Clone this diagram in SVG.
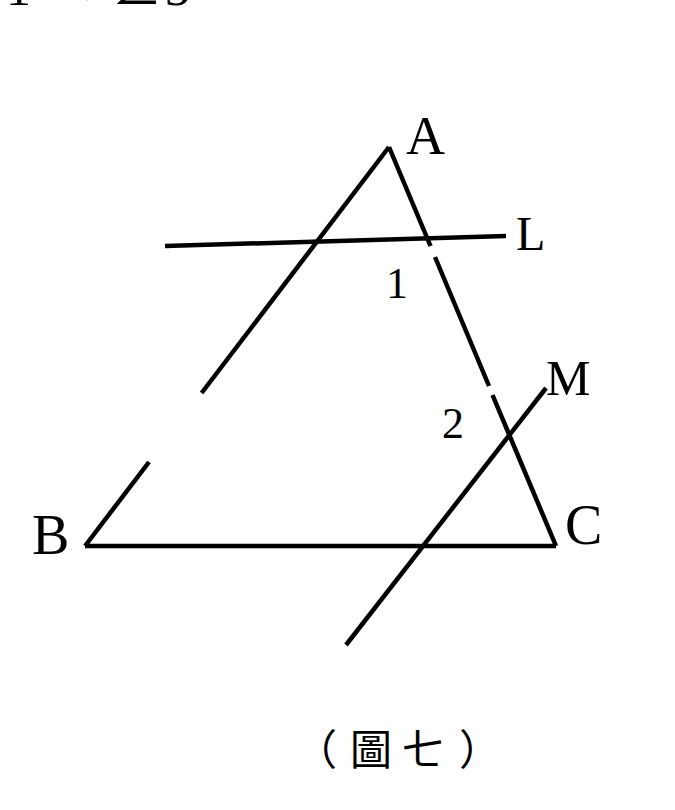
<svg xmlns="http://www.w3.org/2000/svg" width="675" height="810" viewBox="0 0 675 810">
<style>
.ln{stroke:#000;stroke-width:4.5;fill:none;stroke-linecap:butt}
.lb{font-family:"Liberation Serif","Times New Roman",serif;fill:#000}
.cj{font-family:"Noto Sans CJK TC","Noto Sans CJK SC",sans-serif;fill:#000;font-size:42px}
</style>
<rect width="675" height="810" fill="#fff"/>
<text class="lb" y="5" font-size="50"><tspan x="6">1</tspan><tspan x="62">&lt;</tspan><tspan x="112" font-family="Noto Sans CJK TC, sans-serif">∠</tspan><tspan x="165">3</tspan></text>
<g id="connectors">
<path class="ln" d="M389,147 L201.6,393"/>
<path class="ln" d="M149,462 L85,546"/>
<path class="ln" d="M85,546 L556,546"/>
<path class="ln" d="M389,147 L430.5,246"/>
<path class="ln" d="M435,257 L489,386"/>
<path class="ln" d="M492.5,395 L556,546"/>
<path class="ln" d="M165,246 L506,236"/>
<path class="ln" d="M346,645 L546,388"/>
</g>
<g id="node-A"><text class="lb" x="406" y="154" font-size="54">A</text></g>
<g id="node-B"><text class="lb" x="32" y="554" font-size="56">B</text></g>
<g id="node-C"><text class="lb" x="565" y="544" font-size="56">C</text></g>
<g id="node-L"><text class="lb" x="516" y="250" font-size="48">L</text></g>
<g id="node-M"><text class="lb" x="546" y="395" font-size="50">M</text></g>
<g id="label-1"><text class="lb" x="386" y="298" font-size="44">1</text></g>
<g id="label-2"><text class="lb" x="442" y="438" font-size="44">2</text></g>
<g id="caption">
<text class="cj" y="765" text-anchor="middle"><tspan x="316">（</tspan><tspan x="371">圖</tspan><tspan x="423">七</tspan><tspan x="480">）</tspan></text>
</g>
</svg>
